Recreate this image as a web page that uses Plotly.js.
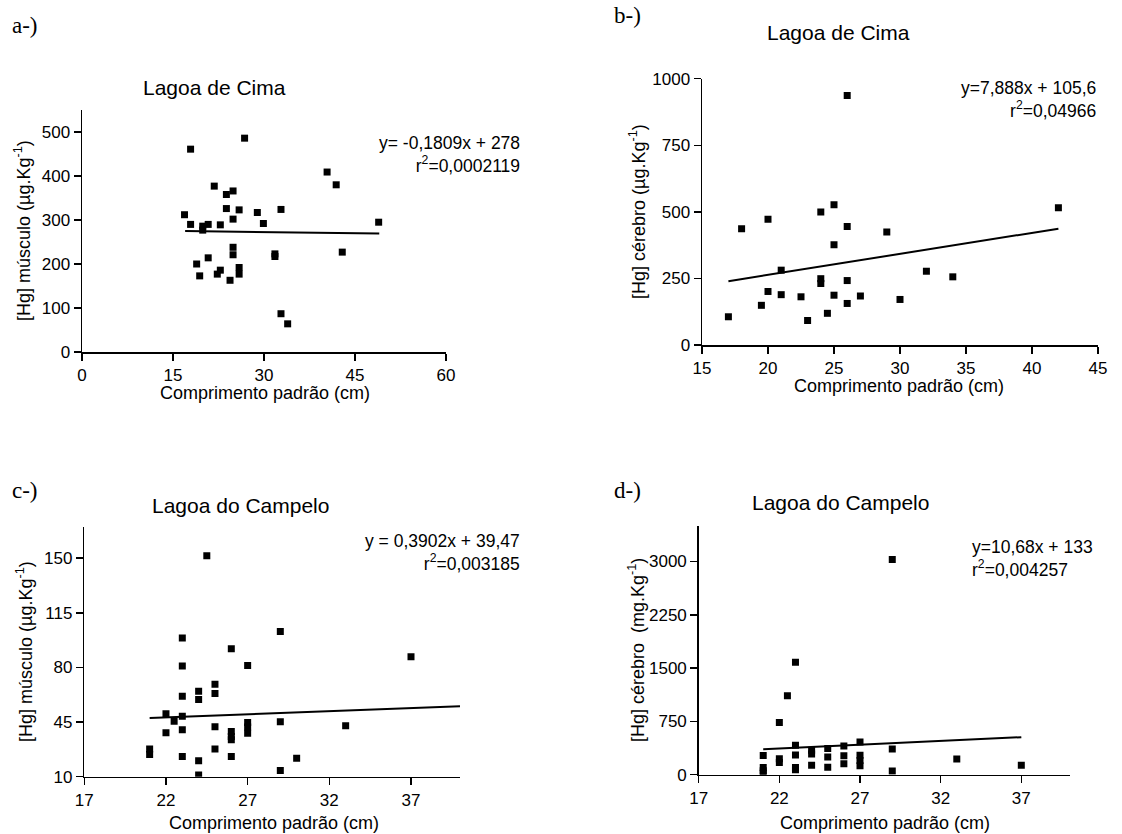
<!DOCTYPE html>
<html>
<head>
<meta charset="utf-8">
<script src="https://cdn.plot.ly/plotly-3.0.1.min.js"></script>
<style>html,body{margin:0;padding:0;background:#fff;}#chart{width:1122px;height:834px;}</style>
</head>
<body>
<div id="chart"></div>
<script>
// ---- Panel a: Lagoa de Cima, músculo ----
const aLength = [16.9,17.9,17.9,19.9,19.9,20.8,18.9,19.4,20.8,21.8,22.8,22.3,22.8,23.8,23.8,24.9,24.9,24.4,24.9,24.9,25.9,25.9,25.9,26.8,28.9,29.9,31.8,31.8,32.8,32.8,33.9,40.4,41.9,42.9,48.9];
const aHg     = [312,461,290,286,277,290,200,173,214,377,289,177,186,358,326,366,302,163,238,221,323,192,177,486,317,292,223,217,324,87,64,409,380,227,295];
const aFit    = {slope:-0.1809, intercept:278, from:17, to:49};

// ---- Panel b: Lagoa de Cima, cérebro ----
const bLength = [17,18,19.5,20,20,21,21,22.5,23,24,24,24,24.5,25,25,25,26,26,26,26,27,29,30,32,34,42];
const bHg     = [106,437,149,472,201,281,189,181,92,499,249,231,119,527,376,187,937,445,242,156,184,424,171,277,256,515];
const bFit    = {slope:7.888, intercept:105.6, from:17, to:42};

// ---- Panel c: Lagoa do Campelo, músculo ----
const cLength = [21,21,22,22,22.5,23,23,23,23,23,23,24,24,24,24,24.5,25,25,25,25,26,26,26,26,26,27,27,27,27,29,29,29,30,33,37];
const cHg     = [27.8,24.2,50.4,38.1,45.6,98.9,80.9,61.5,48.7,40.1,22.9,64.8,59.4,20.3,11.1,151.5,69.3,63.3,42.0,27.8,92.0,39.0,35.8,33.6,22.9,81.3,44.8,41.8,37.9,103.1,45.2,13.9,21.8,42.6,86.9];
const cFit    = {slope:0.3902, intercept:39.47, from:21, to:40};

// ---- Panel d: Lagoa do Campelo, cérebro ----
const dLength = [21,21,21,21,22,22,22,22.5,23,23,23,23,23,24,24,24,25,25,25,26,26,26,27,27,27,27,29,29,29,33,37];
const dHg     = [270,100,55,19,735,225,170,1112,1581,415,277,100,70,345,290,132,368,250,105,405,265,155,460,272,200,127,3027,360,52,220,132];
const dFit    = {slope:10.68, intercept:133, from:21, to:37};

// tick labels
const aXTicks = [0,15,30,45,60], aYTicks = [0,100,200,300,400,500];
const bXTicks = [15,20,25,30,35,40,45], bYTicks = [0,250,500,750,1000];
const cXTicks = [17,22,27,32,37], cYTicks = [10,45,80,115,150];
const dXTicks = [17,22,27,32,37], dYTicks = [0,750,1500,2250,3000];

// texts
const panelLabels = ['a-)', 'b-)', 'c-)', 'd-)'];
const panelTitles = ['Lagoa de Cima', 'Lagoa de Cima', 'Lagoa do Campelo', 'Lagoa do Campelo'];
const xTitle = 'Comprimento padrão (cm)';
const yTitles = ['[Hg] músculo (µg.Kg<sup>-1</sup>)', '[Hg] cérebro (µg.Kg<sup>-1</sup>)',
                 '[Hg] músculo (µg.Kg<sup>-1</sup>)', '[Hg] cérebro  (mg.Kg<sup>-1</sup>)'];
const equations = ['y= -0,1809x + 278<br>r<sup>2</sup>=0,0002119', 'y=7,888x + 105,6<br>r<sup>2</sup>=0,04966',
                   'y = 0,3902x + 39,47<br>r<sup>2</sup>=0,003185', 'y=10,68x + 133<br>r<sup>2</sup>=0,004257'];

const W = 1122, H = 834;
const FONT = 'Liberation Sans, Arial, sans-serif';
const SERIF = 'Liberation Serif, Times New Roman, serif';

function pts(x, y, n) {
  return {x:x, y:y, type:'scatter', mode:'markers', xaxis:'x'+n, yaxis:'y'+n,
    marker:{symbol:'square', size:7, color:'#000'}, showlegend:false, hoverinfo:'x+y'};
}
function fit(f, n) {
  const xs = [f.from, f.to];
  return {x:xs, y:xs.map(v => f.slope*v + f.intercept), type:'scatter', mode:'lines',
    xaxis:'x'+n, yaxis:'y'+n, line:{color:'#000', width:2}, showlegend:false, hoverinfo:'skip'};
}
const data = [
  pts(aLength,aHg,''), fit(aFit,''),
  pts(bLength,bHg,'2'), fit(bFit,'2'),
  pts(cLength,cHg,'3'), fit(cFit,'3'),
  pts(dLength,dHg,'4'), fit(dFit,'4')
];

function common(ticks) {
  return {tickvals:ticks, ticktext:ticks.map(String),
    showline:true, linecolor:'#000', linewidth:1.5, ticks:'outside', ticklen:7, tickwidth:1.5, tickcolor:'#000',
    showgrid:false, zeroline:false, automargin:false, fixedrange:true,
    tickfont:{family:FONT, size:17, color:'#000'}};
}
function xax(px0, px1, range, ticks, anchor) {
  return Object.assign(common(ticks), {domain:[px0/W, px1/W], range:range, anchor:anchor});
}
function yax(py0, py1, range, ticks, anchor) {
  return Object.assign(common(ticks), {domain:[1-py0/H, 1-py1/H], range:range, anchor:anchor});
}
function ann(text, px, py, opts) {
  return Object.assign({text:text, x:px/W, y:1-py/H, xref:'paper', yref:'paper',
    xanchor:'center', yanchor:'middle', showarrow:false, font:{family:FONT, size:18, color:'#000'}}, opts || {});
}

const layout = {
  width:W, height:H, margin:{l:0,r:0,t:0,b:0}, paper_bgcolor:'#fff', plot_bgcolor:'rgba(0,0,0,0)',
  showlegend:false,
  xaxis:  xax(82, 446, [0,60], aXTicks, 'y'),
  yaxis:  yax(352, 110, [0,550], aYTicks, 'x'),
  xaxis2: xax(702, 1098, [15,45], bXTicks, 'y2'),
  yaxis2: yax(345, 78.7, [0,1000], bYTicks, 'x2'),
  xaxis3: xax(84.3, 460, [17,40], cXTicks, 'y3'),
  yaxis3: yax(776.7, 527, [10,170], cYTicks, 'x3'),
  xaxis4: xax(698.7, 1069.7, [17,40], dXTicks, 'y4'),
  yaxis4: yax(774.7, 526, [0,3500], dYTicks, 'x4'),
  annotations: [
    // panel labels
    ann(panelLabels[0], 10, 25, {xanchor:'left', font:{family:SERIF, size:23, color:'#000'}}),
    ann(panelLabels[1], 612, 16, {xanchor:'left', font:{family:SERIF, size:23, color:'#000'}}),
    ann(panelLabels[2], 10, 490, {xanchor:'left', font:{family:SERIF, size:23, color:'#000'}}),
    ann(panelLabels[3], 612, 490, {xanchor:'left', font:{family:SERIF, size:23, color:'#000'}}),
    // panel titles
    ann(panelTitles[0], 214, 87, {font:{family:FONT, size:21, color:'#000'}}),
    ann(panelTitles[1], 838, 33, {font:{family:FONT, size:21, color:'#000'}}),
    ann(panelTitles[2], 240, 505, {font:{family:FONT, size:21, color:'#000'}}),
    ann(panelTitles[3], 840, 502, {font:{family:FONT, size:21, color:'#000'}}),
    // x-axis titles
    ann(xTitle, 265, 393),
    ann(xTitle, 899, 386),
    ann(xTitle, 274, 823),
    ann(xTitle, 885, 823),
    // y-axis titles
    ann(yTitles[0], 22, 231, {textangle:-90}),
    ann(yTitles[1], 638, 212, {textangle:-90}),
    ann(yTitles[2], 24, 652, {textangle:-90}),
    ann(yTitles[3], 636, 650, {textangle:-90}),
    // regression equations
    ann(equations[0], 522, 155, {xanchor:'right', align:'right', font:{family:FONT, size:17.5, color:'#000'}}),
    ann(equations[1], 1098, 99, {xanchor:'right', align:'right', font:{family:FONT, size:17.5, color:'#000'}}),
    ann(equations[2], 522, 552, {xanchor:'right', align:'right', font:{family:FONT, size:17.5, color:'#000'}}),
    ann(equations[3], 970, 558, {xanchor:'left', align:'left', font:{family:FONT, size:17.5, color:'#000'}})
  ]
};
Plotly.newPlot('chart', data, layout, {staticPlot:true, displayModeBar:false});
</script>
</body>
</html>
